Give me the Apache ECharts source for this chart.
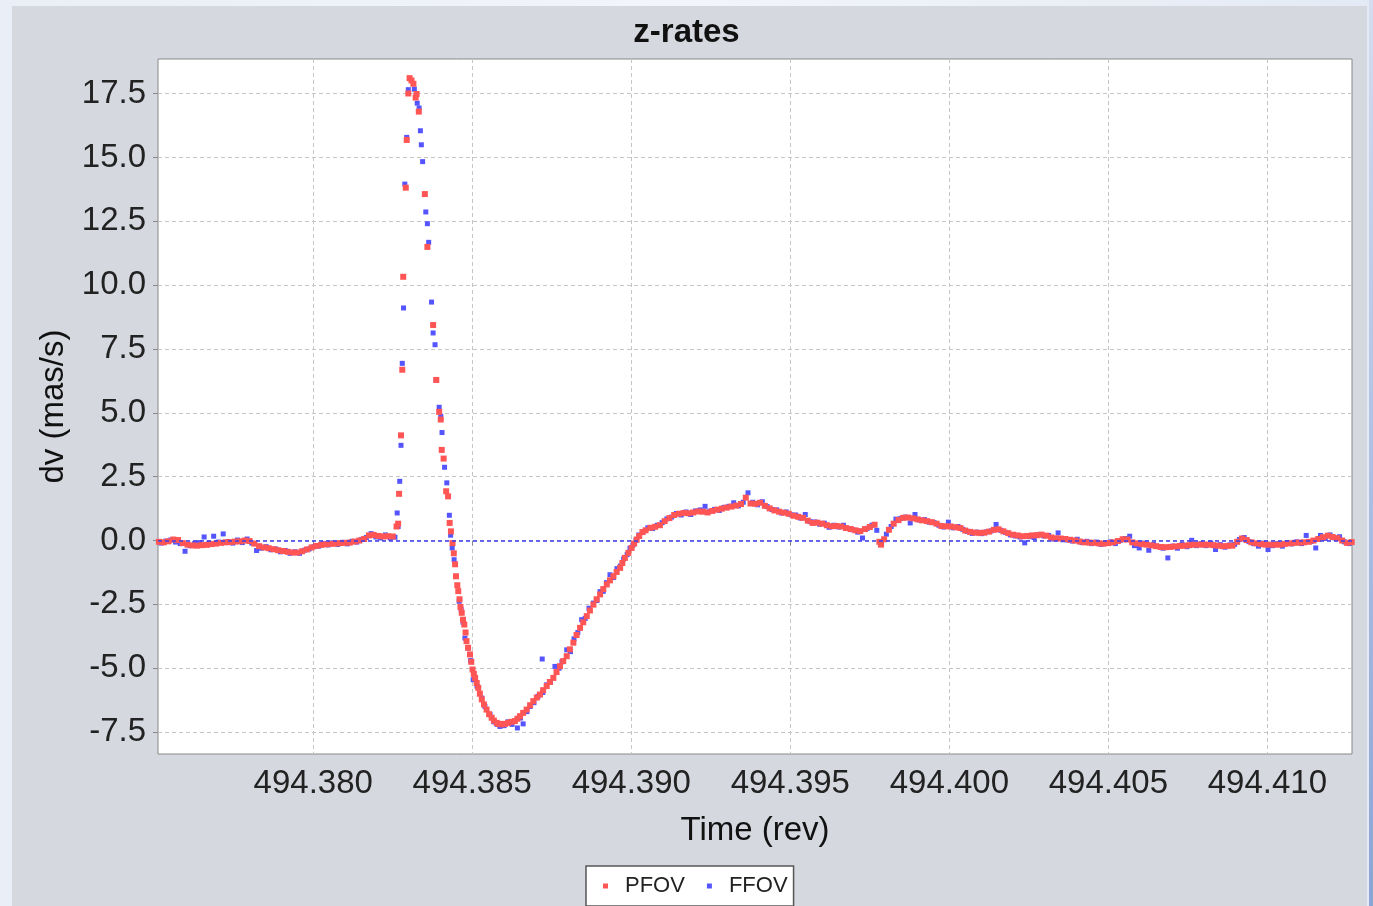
<!DOCTYPE html>
<html>
<head>
<meta charset="utf-8">
<title>z-rates</title>
<script src="https://cdn.jsdelivr.net/npm/echarts@6/dist/echarts.min.js"></script>
<style>
  html, body { margin: 0; padding: 0; width: 1373px; height: 906px; overflow: hidden; }
  body { background: linear-gradient(to right, #e9eef7, #f2f5fa 50%, #e4eaf5); position: relative; }
  #panel { position: absolute; left: 12px; top: 6px; width: 1355px; height: 900px; background: #d5d8df; }
  #edge { position: absolute; left: 1369px; top: 0; width: 4px; height: 906px; background: linear-gradient(to bottom, #d3ddef, #8ba4d5); }
  #chart { position: absolute; left: 0; top: 0; width: 1373px; height: 906px; }
</style>
</head>
<body>
<div id="panel"></div>
<div id="edge"></div>
<div id="chart"></div>
<script>
// Axis ranges and tick values
const xRange = [494.37512, 494.41266];
const yRange = [-8.36, 18.86];
const xTicks = [494.380, 494.385, 494.390, 494.395, 494.400, 494.405, 494.410];
const yTicks = [-7.5, -5.0, -2.5, 0.0, 2.5, 5.0, 7.5, 10.0, 12.5, 15.0, 17.5];

// PFOV rate samples [time (rev), dv (mas/s)]
const pfovBefore = [
  [494.37515,-0.05],[494.37530,-0.07],[494.37545,-0.03],[494.37560,0.04],[494.37575,0.02],
  [494.37590,-0.10],[494.37605,-0.16],[494.37620,-0.19],[494.37635,-0.20],[494.37650,-0.18],
  [494.37665,-0.17],[494.37680,-0.14],[494.37695,-0.12],[494.37710,-0.09],[494.37725,-0.07],
  [494.37740,-0.06],[494.37755,-0.04],[494.37770,-0.03],[494.37785,0.00],[494.37800,-0.02],
  [494.37815,-0.12],[494.37830,-0.22],[494.37845,-0.27],[494.37860,-0.30],[494.37875,-0.34],
  [494.37890,-0.38],[494.37905,-0.41],[494.37920,-0.44],[494.37935,-0.47],[494.37950,-0.47],
  [494.37965,-0.42],[494.37980,-0.35],[494.37995,-0.27],[494.38010,-0.21],[494.38025,-0.17],
  [494.38040,-0.15],[494.38055,-0.13],[494.38070,-0.12],[494.38085,-0.10],[494.38100,-0.09],
  [494.38115,-0.08],[494.38130,-0.04],[494.38145,0.00],[494.38160,0.06],[494.38175,0.20],
  [494.38190,0.22],[494.38205,0.18],[494.38220,0.16],[494.38235,0.17],[494.38250,0.16]
];
const pfovPulse = [
  [494.38262,0.55],[494.38267,0.66],[494.38270,1.83],[494.38276,4.12],[494.38280,6.69],
  [494.38283,10.33],[494.38291,13.82],[494.38294,15.69],[494.38299,17.51],[494.38303,18.11],
  [494.38309,18.02],[494.38315,17.89],[494.38322,17.35],[494.38325,17.49],[494.38332,16.80],
  [494.38351,13.57],[494.38359,11.50],[494.38377,8.44],[494.38387,6.29],[494.38396,5.04],
  [494.38401,4.74],[494.38404,3.55],[494.38410,3.21],[494.38418,1.93],[494.38424,1.73],
  [494.38429,0.69],[494.38433,0.36],[494.38438,-0.10],[494.38442,-0.50],[494.38446,-0.93],
  [494.38449,-1.40],[494.38453,-1.75],[494.38456,-1.98],[494.38460,-2.30],[494.38463,-2.60],
  [494.38467,-2.83],[494.38471,-3.10],[494.38475,-3.29],[494.38479,-3.60],[494.38482,-3.94],
  [494.38487,-4.20],[494.38493,-4.46],[494.38497,-4.75],[494.38501,-5.05],[494.38505,-5.22],
  [494.38509,-5.38],[494.38514,-5.58],[494.38519,-5.77],[494.38524,-6.00],[494.38530,-6.22],
  [494.38537,-6.42],[494.38545,-6.62],[494.38553,-6.80],[494.38561,-6.94],[494.38568,-7.05],
  [494.38577,-7.14],[494.38584,-7.18],[494.38593,-7.20],[494.38603,-7.18],[494.38613,-7.14],
  [494.38623,-7.10],[494.38634,-7.07],[494.38642,-6.98],[494.38650,-6.88],[494.38660,-6.75],
  [494.38671,-6.62],[494.38682,-6.45],[494.38692,-6.29],[494.38703,-6.15],[494.38713,-6.03],
  [494.38723,-5.86],[494.38734,-5.70],[494.38744,-5.54],[494.38755,-5.38],[494.38765,-5.15],
  [494.38776,-4.92],[494.38786,-4.72],[494.38797,-4.53],[494.38807,-4.26],[494.38818,-4.00],
  [494.38828,-3.70],[494.38839,-3.42],[494.38849,-3.20],[494.38860,-2.96],[494.38870,-2.74],
  [494.38881,-2.51],[494.38891,-2.30],[494.38902,-2.11],[494.38912,-1.90],[494.38923,-1.72],
  [494.38933,-1.56],[494.38944,-1.40],[494.38954,-1.23],[494.38965,-1.07],[494.38972,-0.88],
  [494.38980,-0.68],[494.38991,-0.48],[494.39001,-0.29],[494.39009,-0.12],[494.39017,0.04],
  [494.39025,0.18],[494.39035,0.33]
];
const pfovAfter = [
  [494.39045,0.40],[494.39060,0.50],[494.39075,0.54],[494.39090,0.60],[494.39105,0.76],
  [494.39120,0.88],[494.39135,1.00],[494.39150,1.05],[494.39165,1.08],[494.39180,1.07],
  [494.39195,1.10],[494.39210,1.14],[494.39225,1.13],[494.39240,1.10],[494.39255,1.16],
  [494.39270,1.21],[494.39285,1.25],[494.39300,1.29],[494.39315,1.33],[494.39330,1.37],
  [494.39345,1.43],[494.39360,1.68],[494.39375,1.45],[494.39390,1.44],[494.39405,1.48],
  [494.39420,1.36],[494.39435,1.26],[494.39450,1.18],[494.39465,1.13],[494.39480,1.09],
  [494.39495,1.05],[494.39510,0.97],[494.39525,0.93],[494.39540,0.89],[494.39555,0.78],
  [494.39570,0.69],[494.39585,0.70],[494.39600,0.66],[494.39615,0.60],[494.39630,0.56],
  [494.39645,0.57],[494.39660,0.55],[494.39675,0.49],[494.39690,0.45],[494.39705,0.40],
  [494.39720,0.37],[494.39735,0.45],[494.39750,0.53],[494.39765,0.62],[494.39780,-0.05],
  [494.39785,-0.16],[494.39795,0.05],[494.39810,0.42],[494.39825,0.66],[494.39840,0.80],
  [494.39855,0.89],[494.39870,0.90],[494.39885,0.87],[494.39900,0.83],[494.39915,0.79],
  [494.39930,0.76],[494.39945,0.72],[494.39960,0.66],[494.39975,0.57],[494.39990,0.56],
  [494.40005,0.55],[494.40020,0.52],[494.40035,0.49],[494.40050,0.39],[494.40065,0.34],
  [494.40080,0.31],[494.40095,0.30],[494.40110,0.31],[494.40125,0.35],[494.40140,0.42],
  [494.40155,0.44],[494.40170,0.36],[494.40185,0.29],[494.40200,0.23],[494.40215,0.20],
  [494.40230,0.17],[494.40245,0.18],[494.40260,0.20],[494.40275,0.21],[494.40290,0.23],
  [494.40305,0.19],[494.40320,0.12],[494.40335,0.09],[494.40350,0.08],[494.40365,0.06],
  [494.40380,0.03],[494.40395,0.00],[494.40410,-0.04],[494.40425,-0.07],[494.40440,-0.08],
  [494.40455,-0.09],[494.40470,-0.11],[494.40485,-0.12],[494.40500,-0.10],[494.40515,-0.07],
  [494.40530,-0.02],[494.40545,0.05],[494.40560,0.04],[494.40575,-0.07],[494.40590,-0.11],
  [494.40605,-0.14],[494.40620,-0.16],[494.40635,-0.19],[494.40650,-0.22],[494.40665,-0.25],
  [494.40680,-0.26],[494.40695,-0.25],[494.40710,-0.23],[494.40725,-0.21],[494.40740,-0.20],
  [494.40755,-0.18],[494.40770,-0.16],[494.40785,-0.16],[494.40800,-0.16],[494.40815,-0.16],
  [494.40830,-0.18],[494.40845,-0.20],[494.40860,-0.22],[494.40875,-0.21],[494.40890,-0.20],
  [494.40905,-0.05],[494.40920,0.08],[494.40935,0.02],[494.40950,-0.07],[494.40965,-0.11],
  [494.40980,-0.14],[494.40995,-0.16],[494.41010,-0.16],[494.41025,-0.16],[494.41040,-0.16],
  [494.41055,-0.13],[494.41070,-0.11],[494.41085,-0.09],[494.41100,-0.08],[494.41115,-0.07],
  [494.41130,-0.05],[494.41145,0.00],[494.41160,0.06],[494.41175,0.13],[494.41190,0.19],
  [494.41205,0.14],[494.41220,0.09],[494.41235,0.00],[494.41250,-0.09],[494.41265,-0.06]
];

// FFOV rate samples [time (rev), dv (mas/s)]
const ffovBefore = [
  [494.37522,-0.10],[494.37537,-0.02],[494.37552,0.02],[494.37567,-0.06],[494.37582,-0.12],
  [494.37597,-0.42],[494.37612,-0.20],[494.37627,-0.12],[494.37642,-0.08],[494.37657,0.14],
  [494.37672,-0.10],[494.37687,0.17],[494.37702,-0.06],[494.37717,0.26],[494.37732,-0.04],
  [494.37747,-0.10],[494.37762,0.02],[494.37777,-0.08],[494.37792,0.06],[494.37807,-0.10],
  [494.37822,-0.39],[494.37837,-0.30],[494.37852,-0.24],[494.37867,-0.36],[494.37882,-0.33],
  [494.37897,-0.44],[494.37912,-0.39],[494.37927,-0.50],[494.37942,-0.44],[494.37957,-0.50],
  [494.37972,-0.38],[494.37987,-0.33],[494.38002,-0.24],[494.38017,-0.22],[494.38032,-0.12],
  [494.38047,-0.17],[494.38062,-0.09],[494.38077,-0.15],[494.38092,-0.07],[494.38107,-0.13],
  [494.38122,-0.03],[494.38137,-0.06],[494.38152,0.04],[494.38167,0.12],[494.38182,0.27],
  [494.38197,0.14],[494.38212,0.10],[494.38227,0.22],[494.38242,0.10],[494.38257,0.13]
];
const ffovPulse = [
  [494.38264,1.08],[494.38267,0.55],[494.38272,2.32],[494.38276,3.73],[494.38280,6.94],
  [494.38284,9.11],[494.38288,13.96],[494.38294,15.79],[494.38299,17.66],[494.38318,17.68],
  [494.38327,17.13],[494.38333,16.94],[494.38337,16.05],[494.38340,15.50],[494.38344,14.84],
  [494.38354,12.87],[494.38359,12.41],[494.38363,11.68],[494.38372,9.34],[494.38377,8.13],
  [494.38383,7.67],[494.38386,6.29],[494.38396,5.22],[494.38401,4.87],[494.38405,4.23],
  [494.38413,2.87],[494.38420,2.26],[494.38428,0.99],[494.38432,0.21],[494.38437,-0.29],
  [494.38443,-0.75],[494.38449,-1.40],[494.38459,-2.38],[494.38465,-2.70],[494.38471,-3.20],
  [494.38477,-3.82],[494.38487,-4.21],[494.38495,-4.70],[494.38503,-5.45],[494.38515,-5.70],
  [494.38530,-6.17],[494.38540,-6.50],[494.38556,-6.82],[494.38568,-7.10],[494.38578,-7.20],
  [494.38587,-7.28],[494.38600,-7.25],[494.38612,-7.10],[494.38625,-7.20],[494.38642,-7.34],
  [494.38652,-6.95],[494.38660,-7.18],[494.38672,-6.70],[494.38682,-6.50],[494.38694,-6.35],
  [494.38707,-6.10],[494.38720,-4.64],[494.38722,-5.95],[494.38734,-5.65],[494.38746,-5.55],
  [494.38760,-4.93],[494.38773,-5.00],[494.38782,-4.75],[494.38797,-4.28],[494.38809,-4.35],
  [494.38820,-3.85],[494.38832,-3.60],[494.38844,-3.10],[494.38855,-3.05],[494.38867,-2.65],
  [494.38881,-2.45],[494.38892,-2.35],[494.38902,-2.00],[494.38912,-1.99],[494.38922,-1.65],
  [494.38933,-1.34],[494.38944,-1.45],[494.38955,-1.10],[494.38966,-1.00],[494.38976,-0.72],
  [494.38987,-0.55],[494.38996,-0.30],[494.39005,-0.18],[494.39015,0.00],[494.39024,0.22]
];
const ffovAfter = [
  [494.39037,0.33],[494.39052,0.50],[494.39067,0.47],[494.39082,0.60],[494.39097,0.70],
  [494.39112,0.85],[494.39127,0.92],[494.39142,1.06],[494.39157,1.00],[494.39172,1.12],
  [494.39187,1.02],[494.39202,1.16],[494.39217,1.20],[494.39232,1.34],[494.39247,1.15],
  [494.39262,1.22],[494.39277,1.18],[494.39292,1.30],[494.39307,1.34],[494.39322,1.48],
  [494.39337,1.36],[494.39352,1.50],[494.39367,1.87],[494.39382,1.50],[494.39397,1.40],
  [494.39412,1.52],[494.39427,1.33],[494.39442,1.22],[494.39457,1.20],[494.39472,1.08],
  [494.39487,1.12],[494.39502,1.01],[494.39517,1.00],[494.39532,0.88],[494.39547,1.02],
  [494.39562,0.74],[494.39577,0.73],[494.39592,0.64],[494.39607,0.68],[494.39622,0.52],
  [494.39637,0.60],[494.39652,0.53],[494.39667,0.60],[494.39682,0.47],[494.39697,0.42],
  [494.39712,0.33],[494.39727,0.10],[494.39742,0.48],[494.39757,0.60],[494.39772,0.40],
  [494.39787,-0.12],[494.39802,0.25],[494.39817,0.55],[494.39832,0.84],[494.39847,0.86],
  [494.39862,0.92],[494.39877,0.69],[494.39892,1.02],[494.39907,0.80],[494.39922,0.82],
  [494.39937,0.72],[494.39952,0.70],[494.39967,0.60],[494.39982,0.53],[494.39997,0.72],
  [494.40012,0.50],[494.40027,0.55],[494.40042,0.44],[494.40057,0.36],[494.40072,0.28],
  [494.40087,0.33],[494.40102,0.27],[494.40117,0.34],[494.40132,0.38],[494.40147,0.63],
  [494.40162,0.40],[494.40177,0.32],[494.40192,0.22],[494.40207,0.18],[494.40222,0.14],
  [494.40237,-0.09],[494.40252,0.15],[494.40267,0.12],[494.40282,0.24],[494.40297,0.18],
  [494.40312,0.20],[494.40327,0.06],[494.40342,0.30],[494.40357,0.03],[494.40372,0.02],
  [494.40387,-0.02],[494.40402,0.05],[494.40417,-0.08],[494.40432,-0.03],[494.40447,-0.12],
  [494.40462,-0.06],[494.40477,-0.15],[494.40492,-0.10],[494.40507,-0.05],[494.40522,-0.12],
  [494.40537,0.00],[494.40552,0.08],[494.40567,0.17],[494.40582,-0.20],[494.40597,-0.29],
  [494.40612,-0.10],[494.40627,-0.38],[494.40642,-0.15],[494.40657,-0.24],[494.40672,-0.30],
  [494.40687,-0.68],[494.40702,-0.22],[494.40717,-0.30],[494.40732,-0.15],[494.40747,-0.24],
  [494.40762,0.01],[494.40777,-0.20],[494.40792,-0.12],[494.40807,-0.20],[494.40822,-0.10],
  [494.40837,-0.35],[494.40852,-0.16],[494.40867,-0.26],[494.40882,-0.17],[494.40897,-0.15],
  [494.40912,0.04],[494.40927,0.12],[494.40942,-0.04],[494.40957,-0.12],[494.40972,-0.22],
  [494.40987,-0.10],[494.41002,-0.35],[494.41017,-0.20],[494.41032,-0.12],[494.41047,-0.22],
  [494.41062,-0.08],[494.41077,-0.13],[494.41092,-0.05],[494.41107,-0.12],[494.41122,0.20],
  [494.41137,-0.04],[494.41152,-0.29],[494.41167,0.20],[494.41182,0.08],[494.41197,0.22],
  [494.41212,0.10],[494.41227,0.15],[494.41242,-0.05],[494.41257,-0.12]
];

const pfov = pfovBefore.concat(pfovPulse, pfovAfter);
const ffov = ffovBefore.concat(ffovPulse, ffovAfter);

const FONT = '"Liberation Sans", Arial, Helvetica, sans-serif';
const chart = echarts.init(document.getElementById('chart'), null, { renderer: 'canvas' });

chart.setOption({
  animation: false,
  backgroundColor: 'transparent',
  title: {
    text: 'z-rates',
    left: 'center',
    top: 11,
    textStyle: { fontFamily: FONT, fontSize: 33, fontWeight: 'bold', color: '#111' }
  },
  legend: {
    data: ['PFOV', 'FFOV'],
    left: 586,
    top: 866,
    orient: 'horizontal',
    icon: 'rect',
    itemWidth: 5,
    itemHeight: 5,
    itemGap: 22,
    padding: [9, 6, 9, 17],
    backgroundColor: '#ffffff',
    borderColor: '#555555',
    borderWidth: 1.5,
    borderRadius: 0,
    textStyle: { fontFamily: FONT, fontSize: 22, color: '#222', padding: [0, 0, 0, 12] }
  },
  grid: {
    left: 158,
    top: 59,
    width: 1194,
    height: 695,
    show: true,
    backgroundColor: '#ffffff',
    borderColor: '#888888',
    borderWidth: 1
  },
  xAxis: {
    type: 'value',
    min: xRange[0],
    max: xRange[1],
    name: 'Time (rev)',
    nameLocation: 'middle',
    nameGap: 60,
    nameTextStyle: { fontFamily: FONT, fontSize: 33, color: '#111' },
    axisLine: { show: false },
    axisTick: { show: true, length: 5, customValues: xTicks, lineStyle: { color: '#888' } },
    axisLabel: {
      customValues: xTicks,
      formatter: v => v.toFixed(3),
      fontFamily: FONT, fontSize: 33, color: '#222', margin: 13
    },
    splitLine: { show: true, lineStyle: { color: '#c6c6c6', type: [4, 3], width: 1 } }
  },
  yAxis: {
    type: 'value',
    min: yRange[0],
    max: yRange[1],
    name: 'dv (mas/s)',
    nameLocation: 'middle',
    nameGap: 86,
    nameTextStyle: { fontFamily: FONT, fontSize: 33, color: '#111' },
    axisLine: { show: false },
    axisTick: { show: true, length: 5, customValues: yTicks, lineStyle: { color: '#888' } },
    axisLabel: {
      customValues: yTicks,
      formatter: v => v.toFixed(1),
      fontFamily: FONT, fontSize: 33, color: '#222', margin: 12,
      padding: [10, 0, 0, 0]
    },
    splitLine: { show: true, lineStyle: { color: '#c6c6c6', type: [4, 3], width: 1 } }
  },
  series: [
    {
      name: 'FFOV',
      type: 'scatter',
      data: ffov,
      symbol: 'rect',
      symbolSize: 5,
      itemStyle: { color: '#5555ff', opacity: 1 },
      z: 2,
      markLine: {
        silent: true,
        symbol: 'none',
        label: { show: false },
        lineStyle: { color: '#3c3cf0', type: [4, 3], width: 1.5 },
        data: [{ yAxis: 0 }]
      }
    },
    {
      name: 'PFOV',
      type: 'scatter',
      data: pfov,
      symbol: 'rect',
      symbolSize: 6,
      itemStyle: { color: '#ff5555', opacity: 1 },
      z: 3
    }
  ]
});
</script>
</body>
</html>
